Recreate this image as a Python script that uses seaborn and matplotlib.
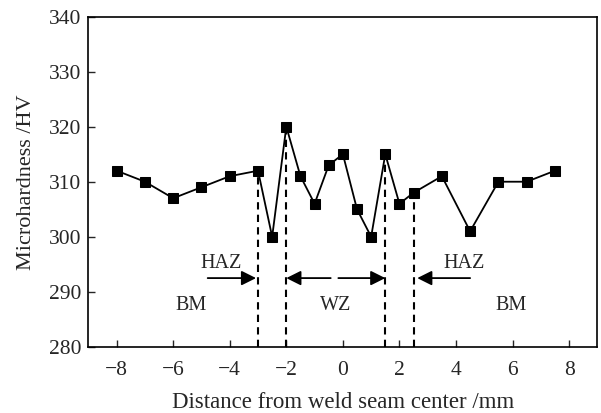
import numpy as np
import pandas as pd
import seaborn as sns
import matplotlib.pyplot as plt

# Microhardness profile across the weld
distance = [-8, -7, -6, -5, -4, -3, -2.5, -2, -1.5, -1, -0.5, 0, 0.5, 1, 1.5, 2, 2.5, 3.5, 4.5, 5.5, 6.5, 7.5]
hardness = [312, 310, 307, 309, 311, 312, 300, 320, 311, 306, 313, 315, 305, 300, 315, 306, 308, 311, 301, 310, 310, 312]

# zone boundaries (dashed lines drawn up to the measured point)
boundaries = [-3, -2, 1.5, 2.5]

data = pd.DataFrame({'Distance': distance, 'Hardness': hardness})

sns.set_style("ticks")
plt.rcParams['font.family'] = ['Liberation Serif', 'DejaVu Serif']

fig, ax = plt.subplots(figsize=(6.01, 4.13), dpi=100)
fig.subplots_adjust(left=0.147, right=0.994, top=0.96, bottom=0.16)

sns.lineplot(x='Distance', y='Hardness', data=data, ax=ax, color='black',
             linewidth=1.3, marker='s', markersize=7, markeredgecolor='black')

for b in boundaries:
    top = data.loc[data['Distance'] == b, 'Hardness'].iloc[0]
    ax.plot([b, b], [280, top], color='black', linestyle=(0, (3.5, 2.5)), linewidth=1.5, zorder=1)

arrow = dict(arrowstyle='-|>', color='black', linewidth=1.3, mutation_scale=22, shrinkA=0, shrinkB=0)
ax.annotate('', xy=(-3.07, 292.5), xytext=(-4.78, 292.5), arrowprops=arrow)
ax.annotate('', xy=(-2.0, 292.5), xytext=(-0.43, 292.5), arrowprops=arrow)
ax.annotate('', xy=(1.5, 292.5), xytext=(-0.16, 292.5), arrowprops=arrow)
ax.annotate('', xy=(2.63, 292.5), xytext=(4.5, 292.5), arrowprops=arrow)

fs = 14.5
ax.text(-4.3, 295.2, 'HAZ', ha='center', va='center', fontsize=fs)
ax.text(4.3, 295.2, 'HAZ', ha='center', va='center', fontsize=fs)
ax.text(-5.36, 287.6, 'BM', ha='center', va='center', fontsize=fs)
ax.text(-0.25, 287.6, 'WZ', ha='center', va='center', fontsize=fs)
ax.text(5.95, 287.6, 'BM', ha='center', va='center', fontsize=fs)

ax.set_xlim(-9, 9)
ax.set_ylim(280, 340)
ax.set_xticks(np.arange(-8, 9, 2))
ax.set_yticks(np.arange(280, 341, 10))
ax.set_xticklabels(['\u22128', '\u22126', '\u22124', '\u22122', '0', '2', '4', '6', '8'])
ax.tick_params(direction='in', length=5, width=1, labelsize=15.5)
ax.tick_params(axis='x', pad=10)
ax.tick_params(axis='y', pad=5)
for s in ax.spines.values():
    s.set_linewidth(1.2)
    s.set_color('black')

ax.set_xlabel('Distance from weld seam center /mm', fontsize=16.5, labelpad=9)
ax.set_ylabel('Microhardness /HV', fontsize=16, labelpad=9)

fig.savefig('out.png', dpi=100)
